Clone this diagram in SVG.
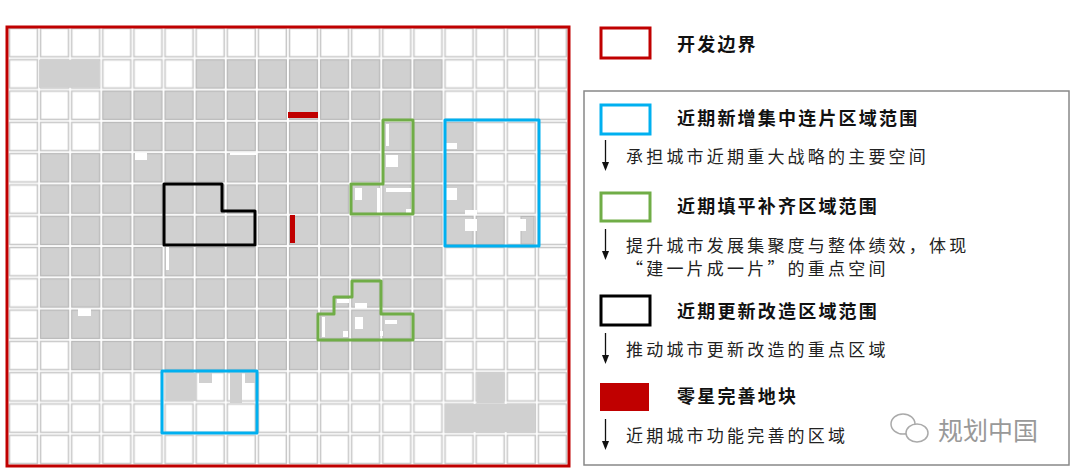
<svg xmlns="http://www.w3.org/2000/svg" width="1080" height="476" viewBox="0 0 1080 476">
<style>
.t{font-family:"Noto Sans CJK SC","Liberation Sans",sans-serif;font-size:18px;font-weight:bold;fill:#111;letter-spacing:2.2px}
.d{font-family:"Noto Sans CJK SC","Liberation Sans",sans-serif;font-size:17px;fill:#222;letter-spacing:3.2px}
.g{fill:url(#pg)}
.n{fill:#fff}
</style>
<defs>
<pattern id="pw" x="8" y="27" width="31.11" height="31.29" patternUnits="userSpaceOnUse"><rect x="1.5" y="1.5" width="28" height="28.3" fill="#fff" stroke="#c8c8c8" stroke-width="1.5"/></pattern>
<pattern id="pg" x="8" y="27" width="31.11" height="31.29" patternUnits="userSpaceOnUse"><rect width="31.11" height="31.29" fill="#fff"/><rect x="1.5" y="1.5" width="28" height="28.3" fill="#d0d0d0" stroke="#b8b8b8" stroke-width="1.2"/></pattern>
</defs>
<rect width="1080" height="476" fill="#fff"/>
<g id="map">
<rect x="8" y="27" width="560" height="438" fill="url(#pw)"/>
<rect x="39.1" y="59.8" width="60" height="28" fill="#d0d0d0"/>
<rect class="g" x="194.7" y="58.3" width="248.8" height="31.3"/>
<rect class="g" x="101.3" y="89.6" width="342.2" height="31.3"/>
<rect class="g" x="101.3" y="120.9" width="373.3" height="31.3"/>
<rect class="g" x="39.1" y="152.2" width="435.6" height="62.6"/>
<rect class="g" x="39.1" y="214.7" width="466.7" height="31.3"/>
<rect x="521" y="216.5" width="13" height="27.5" fill="#d0d0d0" stroke="#b8b8b8"/>
<rect class="g" x="39.1" y="246" width="404.4" height="93.9"/>
<rect class="g" x="70.2" y="339.9" width="373.3" height="31.3"/>
<rect x="476.5" y="373" width="28" height="30" fill="#d0d0d0"/>
<rect x="445" y="404" width="90" height="28" fill="#d0d0d0"/>
<rect x="166" y="373" width="30" height="28" fill="#d0d0d0"/>
<rect x="199" y="373" width="13" height="10" fill="#d0d0d0"/>
<rect x="230" y="373" width="12" height="30" fill="#d0d0d0"/>
<rect x="245" y="373" width="10" height="10" fill="#d0d0d0"/>
<rect class="n" x="135" y="153" width="12" height="7"/>
<rect class="n" x="230" y="153" width="26" height="2"/>
<rect class="n" x="166" y="247" width="3" height="23"/>
<rect class="n" x="78" y="309" width="13" height="7"/>
<rect class="n" x="386" y="124" width="3" height="22"/>
<rect class="n" x="386" y="155" width="12" height="12"/>
<rect class="n" x="355" y="188" width="7" height="12"/>
<rect class="n" x="377" y="188" width="3" height="25"/>
<rect class="n" x="386" y="188" width="25" height="4"/>
<rect class="n" x="406" y="209" width="5" height="5"/>
<rect class="n" x="445" y="143" width="12" height="6"/>
<rect class="n" x="445" y="188" width="12" height="12"/>
<rect class="n" x="465" y="210" width="12" height="5"/>
<rect class="n" x="465" y="219" width="12" height="12"/>
<rect class="n" x="514" y="219" width="12" height="12"/>
<rect class="n" x="337" y="299" width="12" height="4"/>
<rect class="n" x="355" y="303" width="12" height="5"/>
<rect class="n" x="322" y="317" width="3" height="20"/>
<rect class="n" x="355" y="317" width="8" height="12"/>
<rect class="n" x="343" y="331" width="5" height="6"/>
<rect class="n" x="385" y="320" width="12" height="4"/>
<rect class="n" x="380" y="331" width="3" height="5"/>
<rect x="288" y="112" width="30" height="6" fill="#c00000"/>
<rect x="290" y="215" width="5" height="28" fill="#c00000"/>
<rect x="7" y="27" width="562" height="439" fill="none" stroke="#c00000" stroke-width="3"/>
</g>
<g id="regions" fill="none" stroke-width="3" stroke-linejoin="round">
<path d="M164,184 H222 V211 H255 V245 H164 Z" stroke="#000"/>
<path d="M383,120 H413 V214 H351 V184 H383 Z" stroke="#70ad47"/>
<path d="M352,281 H381 V314 H413 V340 H318 V314 H334 V297 H352 Z" stroke="#70ad47"/>
<rect x="445" y="120" width="94" height="126" stroke="#00b0f0"/>
<rect x="162" y="371" width="95" height="62" stroke="#00b0f0"/>
</g>
<g id="legend">
<rect x="601" y="28" width="49" height="30" fill="none" stroke="#c00000" stroke-width="3"/>
<text class="t" x="677" y="51">开发边界</text>
<rect x="584" y="91" width="485" height="374" fill="none" stroke="#888" stroke-width="1.5"/>
<rect x="601" y="105" width="49" height="29" fill="none" stroke="#00b0f0" stroke-width="3"/>
<text class="t" x="677" y="125">近期新增集中连片区域范围</text>
<text class="d" x="626" y="163">承担城市近期重大战略的主要空间</text>
<rect x="601" y="193" width="49" height="28" fill="none" stroke="#70ad47" stroke-width="3"/>
<text class="t" x="677" y="213">近期填平补齐区域范围</text>
<text class="d" x="626" y="252">提升城市发展集聚度与整体绩效，体现</text>
<text class="d" x="626" y="275">“建一片成一片”的重点空间</text>
<rect x="601" y="296" width="49" height="29" fill="none" stroke="#000" stroke-width="3"/>
<text class="t" x="677" y="318">近期更新改造区域范围</text>
<text class="d" x="626" y="356">推动城市更新改造的重点区域</text>
<rect x="600" y="383" width="49" height="28" fill="#c00000"/>
<text class="t" x="677" y="403">零星完善地块</text>
<text class="d" x="626" y="442">近期城市功能完善的区域</text>
</g>
<g id="connectors" fill="#111">
<path d="M605.5,140 V163" stroke="#111" stroke-width="1.3"/><path d="M602,162 L609,162 L605.5,171 Z"/>
<path d="M605.5,229 V252" stroke="#111" stroke-width="1.3"/><path d="M602,251 L609,251 L605.5,260 Z"/>
<path d="M605.5,333 V356" stroke="#111" stroke-width="1.3"/><path d="M602,355 L609,355 L605.5,364 Z"/>
<path d="M605.5,419 V442" stroke="#111" stroke-width="1.3"/><path d="M602,441 L609,441 L605.5,450 Z"/>
</g>
<g id="watermark">
<ellipse cx="903" cy="424" rx="12" ry="10" fill="#fff" stroke="#aaa" stroke-width="1.5"/>
<ellipse cx="917" cy="433" rx="11" ry="9" fill="#fff" stroke="#aaa" stroke-width="1.5"/>
<text x="938" y="440" font-family="'Noto Sans CJK SC',sans-serif" font-size="25" fill="#999">规划中国</text>
</g>
</svg>
